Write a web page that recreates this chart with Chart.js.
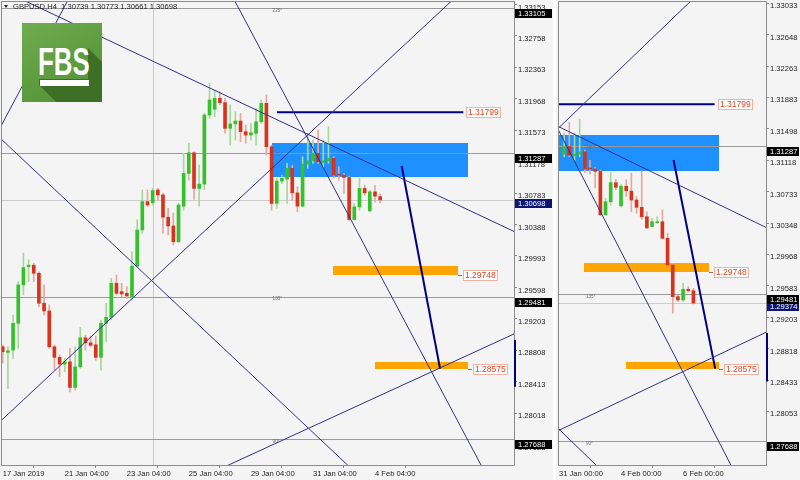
<!DOCTYPE html>
<html>
<head>
<meta charset="utf-8">
<title>GBPUSD H4</title>
<script src="https://cdn.jsdelivr.net/npm/chart.js@4.4.1/dist/chart.umd.min.js"></script>
<style>
  html, body { margin: 0; padding: 0; background: #ffffff; }
  #stage { position: relative; width: 800px; height: 480px; overflow: hidden; background: #ffffff; }
  .pane { position: absolute; top: 0; height: 480px; background: #f4f4f4; }
  #paneMain { left: 0; width: 553px; }
  #paneZoom { left: 556px; width: 244px; }
  .pane canvas { display: block; }
  #logo { position: absolute; left: 22px; top: 23px; width: 80px; height: 79px; overflow: hidden;
          background: linear-gradient(150deg, #6fac50 0%, #5d9c3e 55%, #52903a 100%); }
  #logo .shade { position: absolute; left: 0; top: 0; width: 80px; height: 79px; background: #3d6f27;
          clip-path: polygon(66px 25px, 80px 39px, 80px 79px, 34px 79px, 17px 62px, 17px 56px, 66px 56px); }
  #logo .word { position: absolute; left: 16px; top: 20px; font: bold 38px/38px "Liberation Sans", Arial, sans-serif;
          color: #ffffff; transform: scaleX(0.68); transform-origin: 0 0; white-space: nowrap; }
  #logo .bar { position: absolute; left: 17.5px; top: 57px; width: 49px; height: 6px; background: #ffffff; }
</style>
</head>
<body>
<div id="stage">
  <div class="pane" id="paneMain"><canvas id="chartMain" width="553" height="480"></canvas></div>
  <div class="pane" id="paneZoom"><canvas id="chartZoom" width="244" height="480"></canvas></div>
  <div id="logo"><div class="shade"></div><div class="word">FBS</div><div class="bar"></div></div>
</div>
<script>
// GBPUSD H4 history; bar 0 is the first bar of the wide window (17 Jan 2019)
const barOpen = [
  1.28852, 1.28781, 1.28810, 1.29147, 1.29629, 1.29859, 1.29877, 1.29776, 1.29399, 1.29302,
  1.28852, 1.28719, 1.28634, 1.28663, 1.28341, 1.28600, 1.28965, 1.28902, 1.28877, 1.28719,
  1.29147, 1.29222, 1.29650, 1.29545, 1.29524, 1.29480, 1.29866, 1.30320, 1.30676, 1.30663,
  1.30823, 1.30760, 1.30480, 1.30370, 1.30172, 1.30619, 1.31031, 1.31290, 1.30842, 1.30896,
  1.31765, 1.31837, 1.31975, 1.31920, 1.31597, 1.31652, 1.31689, 1.31555, 1.31513, 1.31534,
  1.31680, 1.31912, 1.31366, 1.30653, 1.30934, 1.30959, 1.31094, 1.30786, 1.30619, 1.31148,
  1.31189, 1.31283, 1.31169, 1.31189, 1.31220, 1.31022, 1.31009, 1.30980, 1.30451, 1.30610,
  1.30842, 1.30560, 1.30799, 1.30739, 1.30631, 1.30542, 1.30427, 1.30308, 1.30354, 1.30366,
  1.30164, 1.29838, 1.29452, 1.29412, 1.29542, 1.29525
];
const barHigh = [
  1.28873, 1.28852, 1.29251, 1.29671, 1.30028, 1.29944, 1.29902, 1.29797, 1.29629, 1.29377,
  1.28873, 1.28748, 1.28706, 1.28832, 1.28852, 1.29096, 1.28999, 1.28986, 1.28986, 1.29188,
  1.29399, 1.29713, 1.29755, 1.29650, 1.29608, 1.30046, 1.30446, 1.30823, 1.30823, 1.30845,
  1.30845, 1.30782, 1.30593, 1.30534, 1.30656, 1.31283, 1.31408, 1.31303, 1.31135, 1.31786,
  1.32164, 1.32080, 1.32058, 1.31975, 1.31891, 1.31806, 1.31786, 1.31639, 1.31660, 1.31849,
  1.31954, 1.32017, 1.31387, 1.30968, 1.31009, 1.31157, 1.31135, 1.30862, 1.31240, 1.31534,
  1.31450, 1.31576, 1.31450, 1.31618, 1.31240, 1.31114, 1.31031, 1.30997, 1.30653, 1.30968,
  1.30883, 1.30820, 1.30880, 1.30957, 1.30671, 1.30985, 1.30488, 1.30408, 1.30427, 1.30509,
  1.30225, 1.29859, 1.29472, 1.29615, 1.29574, 1.29554
];
const barLow = [
  1.28647, 1.28328, 1.28706, 1.28832, 1.29503, 1.29671, 1.29671, 1.29356, 1.29251, 1.28832,
  1.28559, 1.28474, 1.28537, 1.28285, 1.28307, 1.28580, 1.28810, 1.28852, 1.28682, 1.28559,
  1.28915, 1.29188, 1.29503, 1.29482, 1.29462, 1.29438, 1.29857, 1.30278, 1.30613, 1.30634,
  1.30697, 1.30278, 1.30257, 1.30131, 1.30160, 1.30569, 1.30946, 1.30703, 1.30619, 1.30829,
  1.31723, 1.31743, 1.31891, 1.31534, 1.31387, 1.31450, 1.31429, 1.31408, 1.31450, 1.31387,
  1.31660, 1.31261, 1.30569, 1.30590, 1.30905, 1.30653, 1.30694, 1.30547, 1.30610, 1.31094,
  1.31157, 1.31157, 1.31114, 1.31157, 1.30968, 1.30946, 1.30779, 1.30443, 1.30443, 1.30569,
  1.30757, 1.30547, 1.30673, 1.30488, 1.30469, 1.30396, 1.30286, 1.30305, 1.30347, 1.30152,
  1.29826, 1.29249, 1.29391, 1.29391, 1.29513, 1.29363
];
const barClose = [
  1.28789, 1.28802, 1.29147, 1.29629, 1.29847, 1.29877, 1.29776, 1.29399, 1.29302, 1.28852,
  1.28719, 1.28634, 1.28663, 1.28341, 1.28600, 1.28965, 1.28902, 1.28870, 1.28719, 1.29147,
  1.29222, 1.29650, 1.29524, 1.29516, 1.29491, 1.29866, 1.30320, 1.30676, 1.30634, 1.30815,
  1.30760, 1.30480, 1.30370, 1.30172, 1.30634, 1.31031, 1.31290, 1.30842, 1.30896, 1.31765,
  1.31954, 1.31975, 1.31920, 1.31597, 1.31652, 1.31689, 1.31555, 1.31513, 1.31542, 1.31680,
  1.31912, 1.31366, 1.30653, 1.30934, 1.30968, 1.31094, 1.30786, 1.30619, 1.31148, 1.31189,
  1.31283, 1.31177, 1.31189, 1.31220, 1.31009, 1.31009, 1.30980, 1.30451, 1.30610, 1.30842,
  1.30786, 1.30799, 1.30745, 1.30631, 1.30542, 1.30427, 1.30290, 1.30366, 1.30366, 1.30164,
  1.29838, 1.29452, 1.29412, 1.29542, 1.29525, 1.29374
];

// bar 73 as it stood when the wide window was captured: open, high, low, close
const symbolName = 'GBPUSD,H4';
const liveQuote = [1.30739, 1.30773, 1.30661, 1.30698];

// time axis labels (bar index and text)
const mainTimeAt   = [0, 12, 24, 36, 48, 60, 72];
const mainTimeText = ['17 Jan 2019', '21 Jan 04:00', '23 Jan 04:00', '25 Jan 04:00', '29 Jan 04:00', '31 Jan 04:00', '4 Feb 04:00'];
const zoomTimeAt   = [59, 71, 83];
const zoomTimeText = ['31 Jan 00:00', '4 Feb 00:00', '6 Feb 00:00'];

// price scale labels
const mainPriceTicks = [1.33153, 1.32758, 1.32363, 1.31968, 1.31573, 1.31178, 1.30783, 1.30388,
                        1.29993, 1.29598, 1.29203, 1.28808, 1.28413, 1.28018, 1.27623];
const zoomPriceTicks = [1.33033, 1.32648, 1.32263, 1.31883, 1.31498, 1.31118, 1.30733, 1.30348,
                        1.29968, 1.29583, 1.29203, 1.28818, 1.28433, 1.28053, 1.27668];

// Gann grid levels and their angles
const gannLevels = [1.33105, 1.31287, 1.29481, 1.27688];
const gannAngles = ['225°', '180°', '135°', '90°'];

// fan lines, each through two anchors [bar, price]
const fanStart = [[49.77, 1.31806], [28.88, 1.29691], [28.88, 1.29678], [43.69, 1.27366], [53.00, 1.32205], [-0.33, 1.31626]];
const fanEnd   = [[88.45, 1.30621], [70.41, 1.32205], [66.69, 1.27366], [98.76, 1.29009], [92.24, 1.27399], [12.63, 1.33210]];

// zones: bar span and price span
const zoneFrom  = [52.0, 63.9, 72.0];
const zoneTo    = [89.9, 88.1, 89.9];
const zoneUpper = [1.31418, 1.29862, 1.28659];
const zoneLower = [1.30989, 1.29748, 1.28575];

// resistance line
const targetPrice = 1.31799;
const targetSpan = [53.06, 89.1];

// projected move on each window
const moveMain = [[77.17, 1.31124], [84.59, 1.28575]];
const moveZoom = [[81.16, 1.31119], [89.21, 1.28575]];

// period separator and price-scale range marks
const separatorBars = [29];
const scaleMarkMain = [1.28937, 1.28350];
const scaleMarkZoom = [1.29009, 1.28416];

// ---- styles ----
const UP = '#35c12b', DOWN = '#d9331d';
const UP_WICK = '#a3d999', DOWN_WICK = '#e6a79f';
const FAN = '#30308f', DEEP = '#000080';
const ZONE_COLORS = ['#1e90ff', '#ffa500', '#ffa500'];
const AXIS_FONT = { family: '"Liberation Sans", Arial, sans-serif', size: 7.6 };
const AXIS_TEXT = '#1e1e1e';
const FRAME = '#8c8c8c';

function lineSet(points, color, width) {
  return { type: 'line', data: points, borderColor: color, borderWidth: width, pointRadius: 0,
           tension: 0, fill: false, order: 0 };
}

function priceTag(ctx, X, Y, text, dash) {
  ctx.save();
  ctx.font = '8.5px "Liberation Sans", Arial, sans-serif';
  Y = Math.round(Y);
  let x0 = Math.round(X);
  if (dash) {
    ctx.strokeStyle = '#9c6a5e'; ctx.lineWidth = 1;
    ctx.beginPath(); ctx.moveTo(x0, Y + 0.5); ctx.lineTo(x0 + 4, Y + 0.5); ctx.stroke();
    x0 += 5;
  }
  const w = Math.ceil(ctx.measureText(text).width) + 4;
  ctx.fillStyle = '#ffffff';
  ctx.fillRect(x0, Y - 5, w, 11);
  ctx.strokeStyle = '#f0b3a3'; ctx.lineWidth = 1;
  ctx.strokeRect(x0 + 0.5, Y - 4.5, w - 1, 10);
  ctx.fillStyle = '#e3441e'; ctx.textBaseline = 'middle'; ctx.textAlign = 'left';
  ctx.fillText(text, x0 + 2, Y + 1);
  ctx.restore();
}

function axisTag(ctx, xLeft, w, Y, text, bg) {
  const top = Math.round(Y - 4.5);
  ctx.fillStyle = bg;
  ctx.fillRect(xLeft, top, w, 9);
  ctx.fillStyle = '#ffffff';
  ctx.font = '7.6px "Liberation Sans", Arial, sans-serif';
  ctx.textBaseline = 'middle'; ctx.textAlign = 'left';
  ctx.fillText(text, xLeft + 3, top + 5);
}

function overlayFor(p) {
  return {
    id: 'overlay',
    beforeDatasetsDraw(chart) {
      const { ctx, chartArea: a } = chart;
      const x = chart.scales.x, y = chart.scales.y;
      ctx.save();
      ctx.beginPath(); ctx.rect(a.left, a.top, a.right - a.left, a.bottom - a.top); ctx.clip();
      ctx.lineWidth = 1;
      // period separators
      ctx.strokeStyle = '#c6c6e6';
      separatorBars.forEach(b => {
        if (b < p.xMin || b > p.xMax) return;
        const X = Math.round(x.getPixelForValue(b)) + 0.5;
        ctx.beginPath(); ctx.moveTo(X, a.top); ctx.lineTo(X, a.bottom); ctx.stroke();
      });
      // zones
      zoneFrom.forEach((f, k) => {
        const x0 = Math.round(x.getPixelForValue(f)), x1 = Math.round(x.getPixelForValue(zoneTo[k]));
        const y0 = Math.round(y.getPixelForValue(zoneUpper[k])), y1 = Math.round(y.getPixelForValue(zoneLower[k]));
        ctx.fillStyle = ZONE_COLORS[k];
        ctx.fillRect(x0, y0, x1 - x0, y1 - y0);
      });
      // Gann levels
      ctx.strokeStyle = '#9b9b9b';
      gannLevels.forEach(v => {
        const Y = Math.round(y.getPixelForValue(v)) + 0.5;
        ctx.beginPath(); ctx.moveTo(a.left, Y); ctx.lineTo(a.right, Y); ctx.stroke();
      });
      // bid line
      ctx.strokeStyle = '#cbcbcb';
      const YB = Math.round(y.getPixelForValue(p.bid)) + 0.5;
      ctx.beginPath(); ctx.moveTo(a.left, YB); ctx.lineTo(a.right, YB); ctx.stroke();
      // angle captions
      ctx.font = '4.6px "Liberation Sans", Arial, sans-serif';
      ctx.fillStyle = '#6e6e6e'; ctx.textBaseline = 'middle'; ctx.textAlign = 'left';
      gannLevels.forEach((v, k) => {
        ctx.fillText(gannAngles[k], x.getPixelForValue(p.angleAt), y.getPixelForValue(v) + 2);
      });
      ctx.restore();
    },
    afterDatasetsDraw(chart) {
      const { ctx, chartArea: a } = chart;
      const x = chart.scales.x, y = chart.scales.y;
      ctx.save();
      // frame
      ctx.strokeStyle = FRAME; ctx.lineWidth = 1;
      ctx.beginPath();
      ctx.moveTo(a.left - 0.5, a.top - 0.5); ctx.lineTo(a.right + 0.5, a.top - 0.5);
      ctx.lineTo(a.right + 0.5, a.bottom + 0.5); ctx.lineTo(a.left - 0.5, a.bottom + 0.5);
      ctx.closePath(); ctx.stroke();
      // price tags of objects
      priceTag(ctx, x.getPixelForValue(targetSpan[1]) + 3, y.getPixelForValue(targetPrice), targetPrice.toFixed(5), false);
      [1, 2].forEach(k => {
        priceTag(ctx, x.getPixelForValue(zoneTo[k]), y.getPixelForValue(zoneLower[k]), zoneLower[k].toFixed(5), true);
      });
      // price-scale range mark
      ctx.strokeStyle = DEEP; ctx.lineWidth = 2;
      ctx.beginPath();
      ctx.moveTo(a.right + 1, y.getPixelForValue(p.scaleMark[0]));
      ctx.lineTo(a.right + 1, y.getPixelForValue(p.scaleMark[1]));
      ctx.stroke();
      // price-scale tags
      const tagW = chart.width - a.right - 2;
      axisTag(ctx, a.right + 1, tagW, y.getPixelForValue(p.bid) + 3.5, p.bid.toFixed(5), '#0c1670');
      gannLevels.forEach(v => {
        if (v > p.yMax || v < p.yMin) return;
        axisTag(ctx, a.right + 1, tagW, y.getPixelForValue(v) + 5.5, v.toFixed(5), '#000000');
      });
      // symbol header
      if (p.header) {
        ctx.fillStyle = '#1a1a40';
        ctx.beginPath(); ctx.moveTo(4, 5); ctx.lineTo(8, 5); ctx.lineTo(6, 8); ctx.closePath(); ctx.fill();
        ctx.fillStyle = '#1e1e1e';
        ctx.font = '7.6px "Liberation Sans", Arial, sans-serif';
        ctx.textBaseline = 'middle'; ctx.textAlign = 'left';
        ctx.fillText(symbolName + '  ' + liveQuote.map(v => v.toFixed(5)).join(' '), 13, 7);
      }
      ctx.restore();
    }
  };
}

function makeChart(canvasId, p) {
  const body = [], wick = [], bodyCol = [], wickCol = [];
  for (let i = p.firstBar; i <= p.lastBar; i++) {
    const live = (i === p.liveBar);
    const o = live ? liveQuote[0] : barOpen[i];
    const h = live ? liveQuote[1] : barHigh[i];
    const l = live ? liveQuote[2] : barLow[i];
    const c = live ? liveQuote[3] : barClose[i];
    const up = c >= o;
    body.push({ x: i, y: [o, c] });
    wick.push({ x: i, y: [l, h] });
    bodyCol.push(up ? UP : DOWN);
    wickCol.push(up ? UP_WICK : DOWN_WICK);
  }

  const datasets = [];
  fanStart.forEach((s, k) => {
    const e = fanEnd[k];
    const slope = (e[1] - s[1]) / (e[0] - s[0]);
    const x0 = p.xMin - 1, x1 = p.xMax + 1;
    datasets.push(lineSet([{ x: x0, y: s[1] + slope * (x0 - s[0]) }, { x: x1, y: s[1] + slope * (x1 - s[0]) }], FAN, 1));
  });
  datasets.push(lineSet([{ x: targetSpan[0], y: targetPrice }, { x: targetSpan[1], y: targetPrice }], DEEP, 2));
  datasets.push(lineSet(p.move.map(q => ({ x: q[0], y: q[1] })), DEEP, 2));
  datasets.push({ type: 'bar', data: body, backgroundColor: bodyCol, barThickness: 3, grouped: false,
                  minBarLength: 1, borderWidth: 0, order: 1 });
  datasets.push({ type: 'bar', data: wick, backgroundColor: wickCol, barThickness: 1, grouped: false,
                  borderWidth: 0, order: 2 });

  return new Chart(document.getElementById(canvasId), {
    type: 'bar',
    data: { datasets },
    options: {
      responsive: false, animation: false, devicePixelRatio: 1, events: [],
      layout: { padding: { left: p.padLeft, top: 2, right: 0, bottom: 0 }, autoPadding: false },
      plugins: { legend: { display: false }, tooltip: { enabled: false } },
      scales: {
        x: {
          type: 'linear', min: p.xMin, max: p.xMax, bounds: 'data', offset: false,
          afterBuildTicks: s => { s.ticks = p.timeAt.map(v => ({ value: v })); },
          afterFit: s => { s.height = 15; s.paddingLeft = 0; s.paddingRight = 0; },
          ticks: { autoSkip: false, maxRotation: 0, minRotation: 0, align: 'start', padding: 1,
                   color: AXIS_TEXT, font: AXIS_FONT, callback: (v, i) => p.timeText[i] },
          grid: { display: true, drawOnChartArea: false, drawTicks: true, tickLength: 3, color: FRAME },
          border: { display: false }
        },
        y: {
          type: 'linear', position: 'right', min: p.yMin, max: p.yMax, bounds: 'data',
          afterBuildTicks: s => { s.ticks = p.priceTicks.map(v => ({ value: v })); },
          afterFit: s => { s.width = p.axisW; s.paddingTop = 0; s.paddingBottom = 0; },
          ticks: { autoSkip: false, padding: 1, labelOffset: 3, color: AXIS_TEXT, font: AXIS_FONT,
                   callback: v => Number(v).toFixed(5) },
          grid: { display: true, drawOnChartArea: false, drawTicks: true, tickLength: 3, color: FRAME },
          border: { display: false }
        }
      }
    },
    plugins: [overlayFor(p)]
  });
}

makeChart('chartMain', {
  firstBar: 0, lastBar: 73, liveBar: 73,
  xMin: -0.14, xMax: 98.89, yMin: 1.27366, yMax: 1.33185,
  padLeft: 2, axisW: 39,
  timeAt: mainTimeAt, timeText: mainTimeText, priceTicks: mainPriceTicks,
  bid: liveQuote[3], move: moveMain, angleAt: 52.2, scaleMark: scaleMarkMain, header: true
});

makeChart('chartZoom', {
  firstBar: 60, lastBar: barClose.length - 1, liveBar: -1,
  xMin: 59, xMax: 99.04, yMin: 1.27399, yMax: 1.33046,
  padLeft: 3, axisW: 34,
  timeAt: zoomTimeAt, timeText: zoomTimeText, priceTicks: zoomPriceTicks,
  bid: barClose[barClose.length - 1], move: moveZoom, angleAt: 64.2, scaleMark: scaleMarkZoom, header: false
});
</script>
</body>
</html>
